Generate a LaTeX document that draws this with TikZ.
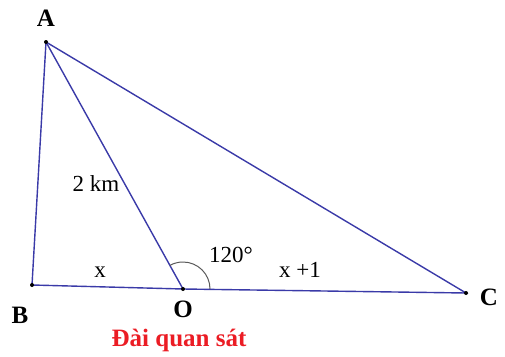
\documentclass[tikz,border=0pt]{standalone}
\usepackage{fontspec}
\setmainfont{Liberation Serif}
\usetikzlibrary{calc,positioning}
\definecolor{sideblue}{RGB}{58,58,168}
\definecolor{obsred}{RGB}{235,28,36}
\tikzset{
  side/.style={sideblue,line width=1.4pt},
  vlabel/.style={font=\fontsize{25}{29}\selectfont\bfseries,inner sep=0pt},
  len/.style={font=\fontsize{23}{27}\selectfont,inner sep=0pt},
  pt/.style={circle,fill=black,inner sep=0pt,minimum size=4pt}
}
\begin{document}
\begin{tikzpicture}[x=1pt,y=-1pt]
\useasboundingbox (0,0) rectangle (505,356);
\coordinate (A) at (46,42);
\coordinate (B) at (32,285);
\coordinate (O) at (183,289);
\coordinate (C) at (466,293);

% sides of the triangle
\draw[side] (A) -- (B) -- (O) -- (C) -- cycle;
\draw[side] (A) -- (O);

% angle at O
\draw[gray!70!black,line width=1pt] ($(O)+(27,0)$) arc[start angle=0,end angle=-119,radius=27];

\node[pt] at (A) {};
\node[pt] at (B) {};
\node[pt] at (O) {};
\node[pt] at (C) {};

\node[vlabel] (lA) at (46,18) {A};
\node[vlabel] (lB) at (20,315) {B};
\node[vlabel] (lO) at (183,309) {O};
\node[vlabel] (lC) at (489,297) {C};

\node[len] (lx) at (100,272) {x};
\node[len] (lx1) at (300,270) {x +1};
\node[len] (lang) at (231,255) {120°};
\node[len] (lkm) at (96,184) {2 km};
\node[vlabel,obsred] (obs) at (179,340) {Đài quan sát};
\end{tikzpicture}
\end{document}
